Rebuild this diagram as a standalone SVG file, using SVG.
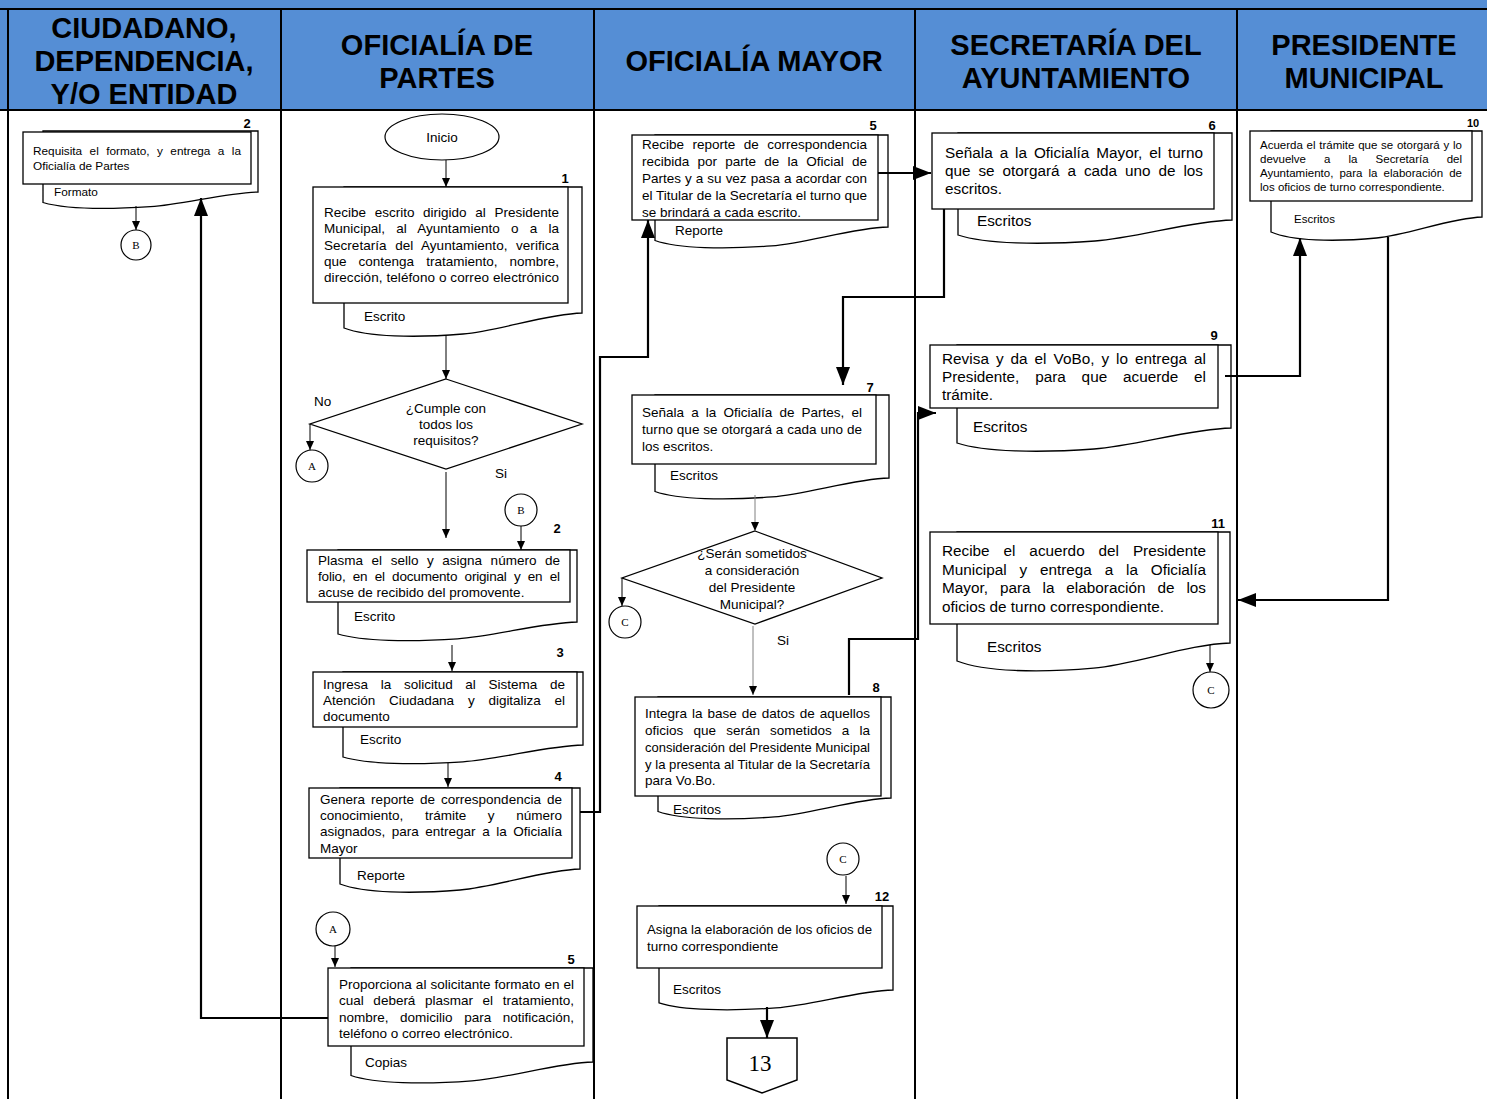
<svg xmlns="http://www.w3.org/2000/svg" width="1487" height="1099" viewBox="0 0 1487 1099">
<style>
.bx{fill:#fff;stroke:#000;stroke-width:1.3}
.dc{fill:#fff;stroke:#000;stroke-width:1.3}
.t{font-family:"Liberation Sans",Arial,sans-serif;font-size:13.5px;fill:#000}
.t4{font-family:"Liberation Sans",Arial,sans-serif;font-size:15.3px;fill:#000}
.ts{font-family:"Liberation Sans",Arial,sans-serif;font-size:11.8px;fill:#000}
.tx{font-family:"Liberation Sans",Arial,sans-serif;font-size:11.5px;fill:#000}
.n{font-family:"Liberation Sans",Arial,sans-serif;font-size:13px;font-weight:bold;fill:#000;text-anchor:middle}
.h{font-family:"Liberation Sans",Arial,sans-serif;font-size:29px;font-weight:bold;fill:#000;text-anchor:middle}
.c{fill:#fff;stroke:#000;stroke-width:1.2}
.cl{font-family:"Liberation Serif","Times New Roman",serif;font-size:11px;fill:#000;text-anchor:middle}
.m{text-anchor:middle}
.ln{fill:none;stroke:#000;stroke-width:1}
.lg{fill:none;stroke:#808080;stroke-width:1}
.lt{fill:none;stroke:#000;stroke-width:2.2}
.grid{stroke:#000;stroke-width:2;fill:none}
</style>
<defs>
<marker id="a" viewBox="0 0 10 10" refX="10" refY="5" markerUnits="userSpaceOnUse" markerWidth="9" markerHeight="8" orient="auto" preserveAspectRatio="none"><path d="M0,0L10,5L0,10Z" fill="#000"/></marker>
<marker id="A" viewBox="0 0 10 10" refX="10" refY="5" markerUnits="userSpaceOnUse" markerWidth="18" markerHeight="14" orient="auto" preserveAspectRatio="none"><path d="M0,0L10,5L0,10Z" fill="#000"/></marker>
</defs>
<rect width="1487" height="1099" fill="#fff"/>
<g id="header">
<rect x="0" y="0" width="1487" height="110" fill="#558ED5"/>
<text class="h" x="144" y="37.5">CIUDADANO,</text>
<text class="h" x="144" y="70.5">DEPENDENCIA,</text>
<text class="h" x="144" y="104">Y/O ENTIDAD</text>
<text class="h" x="437" y="54.5">OFICIALÍA DE</text>
<text class="h" x="437" y="87.5">PARTES</text>
<text class="h" x="754" y="70.5">OFICIALÍA MAYOR</text>
<text class="h" x="1076" y="54.5">SECRETARÍA DEL</text>
<text class="h" x="1076" y="87.5">AYUNTAMIENTO</text>
<text class="h" x="1364" y="54.5">PRESIDENTE</text>
<text class="h" x="1364" y="87.5">MUNICIPAL</text>
</g>
<g id="lanes" class="grid">
<line x1="0" y1="9" x2="1487" y2="9"/>
<line x1="0" y1="110" x2="1487" y2="110"/>
<line x1="8" y1="9" x2="8" y2="1099"/>
<line x1="281" y1="9" x2="281" y2="1099"/>
<line x1="594" y1="9" x2="594" y2="1099"/>
<line x1="915" y1="9" x2="915" y2="1099"/>
<line x1="1237" y1="9" x2="1237" y2="1099"/>
</g>

<g id="n-c2">
<path class="dc" d="M43,131 H258 V192 C225.8,192.7 182.8,204.6 150.5,206.7 C107.5,209.5 64.5,208.8 43,202.5 Z"/>
<rect class="bx" x="23" y="132" width="228" height="52"/>
<text class="ts" x="33" y="155" style="word-spacing:4.2px" textLength="208" lengthAdjust="spacing">Requisita el formato, y entrega a la</text>
<text class="ts" x="33" y="170">Oficialía de Partes</text>
<text class="ts" x="54" y="196">Formato</text>
<text class="n" x="247" y="128">2</text>
</g>
<g id="cB1"><circle class="c" cx="136" cy="245" r="15"/><text class="cl" x="136" y="249">B</text></g>

<g id="inicio"><ellipse class="c" cx="442" cy="137" rx="57" ry="23"/><text class="t m" x="442" y="142">Inicio</text></g>

<g id="n1">
<path class="dc" d="M344,187 H582 V313 C546.3,314 498.7,331 463,334 C415.4,338 367.8,337 344,328 Z"/>
<rect class="bx" x="313" y="187" width="255" height="116"/>
<text class="t" x="324" y="217" style="word-spacing:4.9px" textLength="235" lengthAdjust="spacing">Recibe escrito dirigido al Presidente</text>
<text class="t" x="324" y="233" style="word-spacing:7.4px" textLength="235" lengthAdjust="spacing">Municipal, al Ayuntamiento o a la</text>
<text class="t" x="324" y="250" style="word-spacing:4.8px" textLength="235" lengthAdjust="spacing">Secretaría del Ayuntamiento, verifica</text>
<text class="t" x="324" y="266" style="word-spacing:8.3px" textLength="235" lengthAdjust="spacing">que contenga tratamiento, nombre,</text>
<text class="t" x="324" y="282" textLength="235" lengthAdjust="spacing">dirección, teléfono o correo electrónico</text>
<text class="t" x="364" y="321">Escrito</text>
<text class="n" x="565" y="183">1</text>
</g>

<g id="d1">
<path class="bx" d="M446,379 L582,424 L446,469 L310,424 Z"/>
<text class="t m" x="446" y="412.5">¿Cumple con</text>
<text class="t m" x="446" y="428.5">todos los</text>
<text class="t m" x="446" y="444.5">requisitos?</text>
<text class="t" x="314" y="406">No</text>
<text class="t" x="495" y="478">Si</text>
</g>
<g id="cA1"><circle class="c" cx="312" cy="466" r="16"/><text class="cl" x="312" y="470">A</text></g>
<g id="cB2"><circle class="c" cx="521" cy="510" r="16"/><text class="cl" x="521" y="514">B</text></g>

<g id="n2">
<path class="dc" d="M338,550 H577 V622 C541.2,622.8 493.4,636.4 457.5,638.8 C409.7,642 361.9,641.2 338,634 Z"/>
<rect class="bx" x="307" y="550" width="263" height="52"/>
<text class="t" x="318" y="565" style="word-spacing:4.8px" textLength="242" lengthAdjust="spacing">Plasma el sello y asigna número de</text>
<text class="t" x="318" y="581" style="word-spacing:3.7px" textLength="242" lengthAdjust="spacing">folio, en el documento original y en el</text>
<text class="t" x="318" y="597">acuse de recibido del promovente.</text>
<text class="t" x="354" y="621">Escrito</text>
<text class="n" x="557" y="533">2</text>
</g>

<g id="n3">
<path class="dc" d="M343,672 H583 V745 C547,745.8 499,759.4 463,761.8 C415,765 367,764.2 343,757 Z"/>
<rect class="bx" x="313" y="672" width="264" height="55"/>
<text class="t" x="323" y="689" style="word-spacing:8.9px" textLength="242" lengthAdjust="spacing">Ingresa la solicitud al Sistema de</text>
<text class="t" x="323" y="705" style="word-spacing:10.2px" textLength="242" lengthAdjust="spacing">Atención Ciudadana y digitaliza el</text>
<text class="t" x="323" y="721">documento</text>
<text class="t" x="360" y="744">Escrito</text>
<text class="n" x="560" y="657">3</text>
</g>

<g id="n4">
<path class="dc" d="M340,788 H580 V869 C544,870 496,887 460,890 C412,894 364,893 340,884 Z"/>
<rect class="bx" x="309" y="788" width="263" height="70"/>
<text class="t" x="320" y="804" style="word-spacing:2.3px" textLength="242" lengthAdjust="spacing">Genera reporte de correspondencia de</text>
<text class="t" x="320" y="820" style="word-spacing:17.9px" textLength="242" lengthAdjust="spacing">conocimiento, trámite y número</text>
<text class="t" x="320" y="836" style="word-spacing:2.8px" textLength="242" lengthAdjust="spacing">asignados, para entregar a la Oficialía</text>
<text class="t" x="320" y="853">Mayor</text>
<text class="t" x="357" y="880">Reporte</text>
<text class="n" x="558" y="781">4</text>
</g>

<g id="cA2"><circle class="c" cx="333" cy="929" r="17"/><text class="cl" x="333" y="933">A</text></g>

<g id="n5b">
<path class="dc" d="M351,968 H593 V1062 C556.7,1062.9 508.3,1078.2 472,1080.9 C423.6,1084.5 375.2,1083.6 351,1075.5 Z"/>
<rect class="bx" x="328" y="968" width="256" height="78"/>
<text class="t" x="339" y="989" style="word-spacing:0.3px" textLength="235" lengthAdjust="spacing">Proporciona al solicitante formato en el</text>
<text class="t" x="339" y="1005" style="word-spacing:5.9px" textLength="235" lengthAdjust="spacing">cual deberá plasmar el tratamiento,</text>
<text class="t" x="339" y="1022" style="word-spacing:7.8px" textLength="235" lengthAdjust="spacing">nombre, domicilio para notificación,</text>
<text class="t" x="339" y="1038">teléfono o correo electrónico.</text>
<text class="t" x="365" y="1067">Copias</text>
<text class="n" x="571" y="964">5</text>
</g>

<g id="n5">
<path class="dc" d="M655,135 H888 V227 C853,227.9 806.5,243.2 771.5,245.9 C724.9,249.5 678.3,248.6 655,240.5 Z"/>
<rect class="bx" x="632" y="135" width="246" height="85"/>
<text class="t" x="642" y="149" style="word-spacing:4.7px" textLength="225" lengthAdjust="spacing">Recibe reporte de correspondencia</text>
<text class="t" x="642" y="166" style="word-spacing:4.5px" textLength="225" lengthAdjust="spacing">recibida por parte de la Oficial de</text>
<text class="t" x="642" y="183" style="word-spacing:0.3px" textLength="225" lengthAdjust="spacing">Partes y a su vez pasa a acordar con</text>
<text class="t" x="642" y="200" textLength="225" lengthAdjust="spacingAndGlyphs">el Titular de la Secretaría el turno que</text>
<text class="t" x="642" y="217">se brindará a cada escrito.</text>
<text class="t" x="675" y="235">Reporte</text>
<text class="n" x="873" y="130">5</text>
</g>

<g id="n7">
<path class="dc" d="M655,395 H889 V478 C853.9,478.9 807.1,494.2 772,496.9 C725.2,500.5 678.4,499.6 655,491.5 Z"/>
<rect class="bx" x="632" y="395" width="244" height="69"/>
<text class="t" x="642" y="417" style="word-spacing:3.4px" textLength="220" lengthAdjust="spacing">Señala a la Oficialía de Partes, el</text>
<text class="t" x="642" y="434" textLength="220" lengthAdjust="spacing">turno que se otorgará a cada uno de</text>
<text class="t" x="642" y="451">los escritos.</text>
<text class="t" x="670" y="480">Escritos</text>
<text class="n" x="870" y="392">7</text>
</g>

<g id="d2">
<path class="bx" d="M755,531 L882,578 L755,624 L622,578 Z"/>
<text class="t m" x="752" y="557.5">¿Serán sometidos</text>
<text class="t m" x="752" y="574.5">a consideración</text>
<text class="t m" x="752" y="591.5">del Presidente</text>
<text class="t m" x="752" y="608.5">Municipal?</text>
<text class="t" x="777" y="645">Si</text>
</g>
<g id="cC1"><circle class="c" cx="625" cy="622" r="16"/><text class="cl" x="625" y="626">C</text></g>

<g id="n8">
<path class="dc" d="M658,697 H891 V798 C856,798.9 809.5,814.2 774.5,816.9 C727.9,820.5 681.3,819.6 658,811.5 Z"/>
<rect class="bx" x="635" y="697" width="246" height="99"/>
<text class="t" x="645" y="718" style="word-spacing:1.2px" textLength="225" lengthAdjust="spacing">Integra la base de datos de aquellos</text>
<text class="t" x="645" y="735" style="word-spacing:6.4px" textLength="225" lengthAdjust="spacing">oficios que serán sometidos a la</text>
<text class="t" x="645" y="752" textLength="225" lengthAdjust="spacingAndGlyphs">consideración del Presidente Municipal</text>
<text class="t" x="645" y="769" textLength="225" lengthAdjust="spacingAndGlyphs">y la presenta al Titular de la Secretaría</text>
<text class="t" x="645" y="785">para Vo.Bo.</text>
<text class="t" x="673" y="814">Escritos</text>
<text class="n" x="876" y="692">8</text>
</g>

<g id="cC2"><circle class="c" cx="843" cy="859" r="16"/><text class="cl" x="843" y="863">C</text></g>

<g id="n12">
<path class="dc" d="M659,906 H893 V990 C857.9,990.9 811.1,1005.3 776,1007.9 C729.2,1011.3 682.4,1010.4 659,1002.8 Z"/>
<rect class="bx" x="637" y="906" width="245" height="62"/>
<text class="t" x="647" y="934" textLength="225" lengthAdjust="spacingAndGlyphs">Asigna la elaboración de los oficios de</text>
<text class="t" x="647" y="951">turno correspondiente</text>
<text class="t" x="673" y="994">Escritos</text>
<text class="n" x="882" y="901">12</text>
</g>

<g id="p13">
<path d="M727,1038 H797 V1080 L762,1093 L727,1080 Z" fill="#fff" stroke="#000" stroke-width="1.5"/>
<text x="760" y="1071" font-family="'Liberation Serif','Times New Roman',serif" font-size="23" text-anchor="middle">13</text>
</g>

<g id="n6">
<path class="dc" d="M958,133 H1232 V220 C1190.9,221 1136.1,238 1095,241 C1040.2,245 985.4,244 958,235 Z"/>
<rect class="bx" x="932" y="133" width="282" height="76"/>
<text class="t4" x="945" y="158" style="word-spacing:2.6px" textLength="258" lengthAdjust="spacing">Señala a la Oficialía Mayor, el turno</text>
<text class="t4" x="945" y="176" style="word-spacing:3.7px" textLength="258" lengthAdjust="spacing">que se otorgará a cada uno de los</text>
<text class="t4" x="945" y="194">escritos.</text>
<text class="t4" x="977" y="226">Escritos</text>
<text class="n" x="1212" y="130">6</text>
</g>

<g id="n9">
<path class="dc" d="M957,345 H1231 V428 C1189.9,429 1135.1,446 1094,449 C1039.2,453 984.4,452 957,443 Z"/>
<rect class="bx" x="930" y="345" width="288" height="63"/>
<text class="t4" x="942" y="364" style="word-spacing:2.7px" textLength="264" lengthAdjust="spacing">Revisa y da el VoBo, y lo entrega al</text>
<text class="t4" x="942" y="382" style="word-spacing:11.6px" textLength="264" lengthAdjust="spacing">Presidente, para que acuerde el</text>
<text class="t4" x="942" y="400">trámite.</text>
<text class="t4" x="973" y="432">Escritos</text>
<text class="n" x="1214" y="340">9</text>
</g>

<g id="n11">
<path class="dc" d="M957,532 H1230 V643 C1189,644.2 1134.5,664.6 1093.5,668.2 C1038.9,673 984.3,671.8 957,661 Z"/>
<rect class="bx" x="930" y="532" width="288" height="92"/>
<text class="t4" x="942" y="556" style="word-spacing:9.7px" textLength="264" lengthAdjust="spacing">Recibe el acuerdo del Presidente</text>
<text class="t4" x="942" y="575" style="word-spacing:8.6px" textLength="264" lengthAdjust="spacing">Municipal y entrega a la Oficialía</text>
<text class="t4" x="942" y="593" style="word-spacing:7.6px" textLength="264" lengthAdjust="spacing">Mayor, para la elaboración de los</text>
<text class="t4" x="942" y="612">oficios de turno correspondiente.</text>
<text class="t4" x="987" y="652">Escritos</text>
<text class="n" x="1218" y="528">11</text>
</g>
<g id="cC3"><circle class="c" cx="1211" cy="690" r="18"/><text class="cl" x="1211" y="694">C</text></g>

<g id="n10">
<path class="dc" d="M1271,131 H1482 V217 C1450.4,218 1408.2,235 1376.5,238 C1334.3,242 1292.1,241 1271,232 Z"/>
<rect class="bx" x="1250" y="131" width="222" height="70"/>
<text class="tx" x="1260" y="149" style="word-spacing:0.6px" textLength="202" lengthAdjust="spacing">Acuerda el trámite que se otorgará y lo</text>
<text class="tx" x="1260" y="163" style="word-spacing:14.9px" textLength="202" lengthAdjust="spacing">devuelve a la Secretaría del</text>
<text class="tx" x="1260" y="177" style="word-spacing:2.9px" textLength="202" lengthAdjust="spacing">Ayuntamiento, para la elaboración de</text>
<text class="tx" x="1260" y="191">los oficios de turno correspondiente.</text>
<text class="tx" x="1294" y="223">Escritos</text>
<text class="n" x="1473" y="127" style="font-size:11px">10</text>
</g>

<g id="connectors">
<path class="ln" d="M446,160 V187" marker-end="url(#a)"/>
<path class="ln" d="M446,335 V379" marker-end="url(#a)"/>
<path class="ln" d="M310,424 V450" marker-end="url(#a)"/>
<path class="ln" d="M446,472 V538" marker-end="url(#a)"/>
<path class="ln" d="M521,526 V550" marker-end="url(#a)"/>
<path class="ln" d="M452,645 V671" marker-end="url(#a)"/>
<path class="ln" d="M448,763 V787" marker-end="url(#a)"/>
<path class="ln" d="M136,206 V230" marker-end="url(#a)"/>
<path class="ln" d="M335,946 V967" marker-end="url(#a)"/>
<path class="lt" d="M580,812 H600 V357 H648 V220" marker-end="url(#A)"/>
<path class="lt" d="M878,173 H931" marker-end="url(#A)"/>
<path class="lt" d="M944,209 V297 H843 V385" marker-end="url(#A)"/>
<path class="lg" d="M755,495 V531" marker-end="url(#a)"/>
<path class="ln" d="M622,578 V606" marker-end="url(#a)"/>
<path class="lg" d="M753,626 V695" marker-end="url(#a)"/>
<path class="lt" d="M849,695 V639 H918 V413 H936" marker-end="url(#A)"/>
<path class="lt" d="M1225,376 H1300 V238" marker-end="url(#A)"/>
<path class="lt" d="M1388,237 V600 H1238" marker-end="url(#A)"/>
<path class="ln" d="M1210,645 V672" marker-end="url(#a)"/>
<path class="ln" d="M846,876 V904" marker-end="url(#a)"/>
<path class="lt" d="M767,1007 V1038" marker-end="url(#A)"/>
<path class="lt" d="M328,1018 H201 V198" marker-end="url(#A)"/>
</g>
</svg>
